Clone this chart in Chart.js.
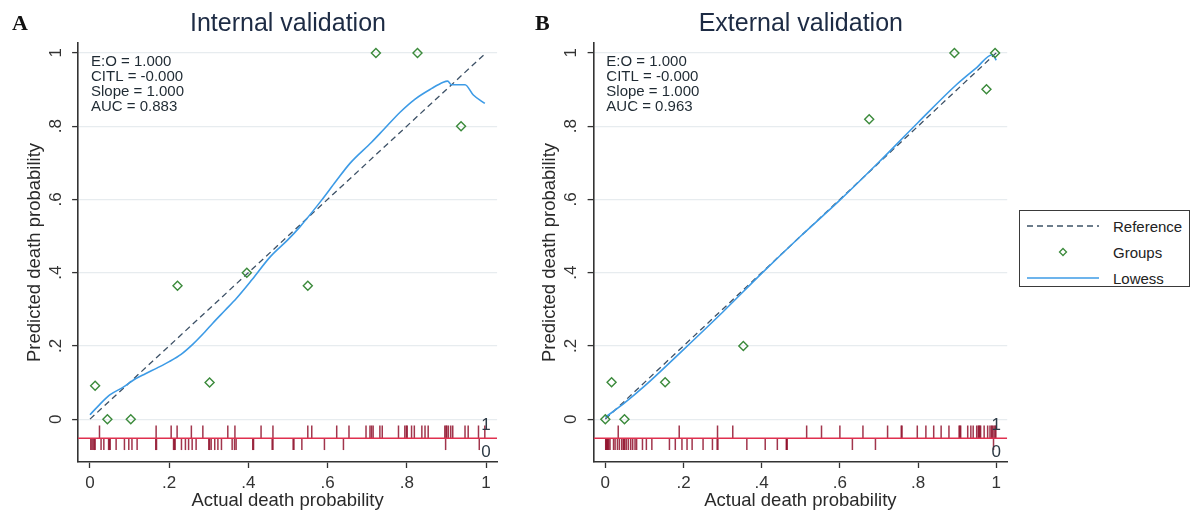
<!DOCTYPE html>
<html>
<head>
<meta charset="utf-8">
<script src="https://cdn.jsdelivr.net/npm/chart.js@4.4.1/dist/chart.umd.min.js"></script>
<style>
  html, body { margin: 0; padding: 0; background: #fff; }
  #wrap { position: relative; width: 1194px; height: 514px; overflow: hidden; background: #fff; }
  #cA { position: absolute; left: 0; top: 0; }
  #cB { position: absolute; left: 515px; top: 0; }
  #legend { position: absolute; left: 1019px; top: 210px; width: 171px; height: 77px;
            border: 1.5px solid #3a3a3a; box-sizing: border-box;
            font-family: "Liberation Sans", Arial, sans-serif; font-size: 15px; color: #222; }
  #legend .row { position: absolute; left: 0; width: 100%; height: 20px; }
  #legend svg { position: absolute; left: 7px; top: 4px; }
  #legend span { position: absolute; left: 93px; top: 1px; line-height: 18px; }
</style>
</head>
<body>
<div id="wrap">
  <canvas id="cA" width="515" height="514"></canvas>
  <canvas id="cB" width="500" height="514"></canvas>
  <div id="legend"></div>
</div>
<script>
// ---- axis ticks (Stata-style labels) ----
const tickValues = [0, 0.2, 0.4, 0.6, 0.8, 1];
const tickLabels = ['0', '.2', '.4', '.6', '.8', '1'];

// ---- reference (perfect calibration) line ----
const refX = [0, 1];
const refY = [0, 1];

// ---- panel A: internal validation ----
const groupsAX = [0.013, 0.044, 0.103, 0.221, 0.302, 0.396, 0.550, 0.722, 0.827, 0.937];
const groupsAY = [0.091, 0.000, 0.000, 0.364, 0.100, 0.400, 0.364, 1.000, 1.000, 0.800];
const lowessAX = [0, 0.02, 0.05, 0.085, 0.11, 0.14, 0.17, 0.2, 0.23, 0.26, 0.29, 0.31, 0.34, 0.37, 0.41, 0.455, 0.5, 0.53, 0.585, 0.62, 0.657, 0.711, 0.741, 0.783, 0.821, 0.863, 0.892, 0.903, 0.913, 0.947, 0.968, 0.997];
const lowessAY = [0.012, 0.035, 0.066, 0.088, 0.107, 0.124, 0.140, 0.157, 0.177, 0.205, 0.238, 0.262, 0.296, 0.33, 0.382, 0.443, 0.49, 0.525, 0.598, 0.648, 0.699, 0.756, 0.79, 0.838, 0.874, 0.903, 0.92, 0.923, 0.913, 0.913, 0.885, 0.862];
const rugAEvents = [0.024, 0.167, 0.205, 0.220, 0.256, 0.285, 0.348, 0.366, 0.432, 0.462, 0.550, 0.560, 0.623, 0.654, 0.697, 0.707, 0.711, 0.715, 0.732, 0.738, 0.779, 0.795, 0.799, 0.801, 0.812, 0.819, 0.838, 0.846, 0.854, 0.896, 0.899, 0.901, 0.905, 0.911, 0.916, 0.947, 0.955, 0.981, 0.997];
const rugANonEvents = [0.002, 0.005, 0.008, 0.011, 0.013, 0.028, 0.035, 0.047, 0.049, 0.051, 0.066, 0.087, 0.098, 0.106, 0.119, 0.166, 0.168, 0.211, 0.213, 0.215, 0.231, 0.241, 0.249, 0.258, 0.268, 0.300, 0.302, 0.306, 0.315, 0.323, 0.332, 0.359, 0.365, 0.369, 0.411, 0.413, 0.460, 0.462, 0.513, 0.515, 0.535, 0.592, 0.640, 0.898, 0.983];
const statsA = ['E:O = 1.000', 'CITL = -0.000', 'Slope = 1.000', 'AUC = 0.883'];

// ---- panel B: external validation ----
const groupsBX = [0.000, 0.016, 0.049, 0.153, 0.353, 0.675, 0.893, 0.975, 0.997];
const groupsBY = [0.000, 0.101, 0.000, 0.101, 0.200, 0.819, 1.000, 0.901, 1.000];
const lowessBX = [0, 0.05, 0.1, 0.2, 0.3, 0.4, 0.5, 0.6, 0.7, 0.8, 0.9, 0.95, 0.99, 1.0];
const lowessBY = [0.005, 0.045, 0.09, 0.19, 0.292, 0.398, 0.5, 0.598, 0.702, 0.81, 0.915, 0.96, 0.995, 0.98];
const rugBEvents = [0.033, 0.189, 0.287, 0.326, 0.515, 0.553, 0.600, 0.659, 0.722, 0.757, 0.759, 0.798, 0.820, 0.840, 0.859, 0.879, 0.905, 0.907, 0.909, 0.927, 0.935, 0.941, 0.950, 0.954, 0.956, 0.958, 0.960, 0.969, 0.978, 0.984, 0.988, 0.990, 0.994, 0.997, 0.999];
const rugBNonEvents = [0.001, 0.002, 0.004, 0.005, 0.007, 0.009, 0.012, 0.021, 0.025, 0.031, 0.036, 0.042, 0.046, 0.048, 0.050, 0.054, 0.059, 0.065, 0.070, 0.076, 0.080, 0.095, 0.105, 0.119, 0.164, 0.179, 0.196, 0.209, 0.222, 0.250, 0.274, 0.286, 0.288, 0.362, 0.409, 0.440, 0.463, 0.464, 0.465, 0.632, 0.691, 0.993];
const statsB = ['E:O = 1.000', 'CITL = -0.000', 'Slope = 1.000', 'AUC = 0.963'];

// ---- layout of the rug strip below zero ----
const rugBaseY = -0.052;       // horizontal red baseline
const rugEventY = -0.0345;     // centre of ticks for outcome = 1
const rugNonEventY = -0.068;   // centre of ticks for outcome = 0
const outcomeLabels = ['1', '0'];
const xRange = [-0.03, 1.028];
const yRange = [-0.117, 1.027];

const legendLabels = ['Reference', 'Groups', 'Lowess'];

const FONT = '"Liberation Sans", Arial, sans-serif';
const COL = {
  ref: '#3d5166', groups: '#3b8a3b', lowess: '#3d9be6',
  rugLine: '#e0304f', rugTick: 'rgba(145,18,45,0.85)', axis: '#333', grid: '#e7ecef', text: '#2a2a2a'
};

const pts = (xs, ys) => xs.map((x, i) => ({ x, y: ys[i] }));
const rug = (xs, y) => xs.map(x => ({ x, y }));

// panel letter, title, statistics block and the 1/0 outcome labels
const panelText = {
  id: 'panelText',
  afterDraw(chart, args, o) {
    const { ctx, scales: { x, y } } = chart;
    ctx.save();
    ctx.fillStyle = '#111';
    ctx.font = 'bold 22px "Liberation Serif", serif';
    ctx.textAlign = 'left'; ctx.textBaseline = 'alphabetic';
    ctx.fillText(o.letter, o.letterX, 30);

    ctx.fillStyle = '#1d2b44';
    ctx.font = '25px ' + FONT;
    ctx.textAlign = 'center'; ctx.textBaseline = 'middle';
    ctx.fillText(o.title, x.getPixelForValue(0.5), 24);

    ctx.fillStyle = '#1f2a33';
    ctx.font = '15px ' + FONT;
    ctx.textAlign = 'left';
    const x0 = x.getPixelForValue(0) + 1;
    const y0 = y.getPixelForValue(1) + 9;
    o.stats.forEach((t, i) => ctx.fillText(t, x0, y0 + i * 15));

    ctx.fillStyle = '#2d3a45';
    ctx.font = '17px ' + FONT;
    ctx.textAlign = 'center';
    ctx.fillText(outcomeLabels[0], x.getPixelForValue(1), y.getPixelForValue(-0.016));
    ctx.fillText(outcomeLabels[1], x.getPixelForValue(1), y.getPixelForValue(-0.09));
    ctx.restore();
  }
};

function makeChart(id, d) {
  const ctx = document.getElementById(id);
  return new Chart(ctx, {
    type: 'scatter',
    data: {
      datasets: [
        { label: legendLabels[2], data: pts(d.lowessX, d.lowessY), showLine: true, pointRadius: 0,
          borderColor: COL.lowess, borderWidth: 1.6, cubicInterpolationMode: 'monotone', order: 1 },
        { label: legendLabels[0], data: pts(refX, refY), showLine: true, pointRadius: 0,
          borderColor: COL.ref, borderWidth: 1.3, borderDash: [6, 4], order: 2 },
        { label: legendLabels[1], data: pts(d.groupsX, d.groupsY), pointStyle: 'rectRot', pointRadius: 4.5,
          borderColor: COL.groups, backgroundColor: 'rgba(255,255,255,0)', borderWidth: 1.4, order: 0 },
        { label: 'rugline', data: rug(xRange, rugBaseY), showLine: true, pointRadius: 0,
          borderColor: COL.rugLine, borderWidth: 1.5, order: 3 },
        { label: 'events', data: rug(d.rugEvents, rugEventY), pointStyle: 'line', rotation: 90,
          pointRadius: 6.3, borderColor: COL.rugTick, borderWidth: 1.5, order: 4 },
        { label: 'nonevents', data: rug(d.rugNonEvents, rugNonEventY), pointStyle: 'line', rotation: 90,
          pointRadius: 6, borderColor: COL.rugTick, borderWidth: 1.5, order: 4 }
      ]
    },
    options: {
      responsive: false,
      animation: false,
      events: [],
      layout: { padding: { top: 43, right: d.padRight, bottom: 0, left: 0 } },
      plugins: {
        legend: { display: false },
        tooltip: { enabled: false },
        panelText: { letter: d.letter, letterX: d.letterX, title: d.title, stats: d.stats }
      },
      scales: {
        x: {
          type: 'linear', min: xRange[0], max: xRange[1],
          afterBuildTicks: s => { s.ticks = tickValues.map(v => ({ value: v })); },
          afterFit: s => { s.height = 52; },
          ticks: { autoSkip: false, maxRotation: 0, padding: 5, color: '#333',
                   font: { family: FONT, size: 17 },
                   callback: v => tickLabels[tickValues.indexOf(v)] },
          grid: { drawOnChartArea: false, tickLength: 6, tickColor: COL.axis, tickWidth: 1.3 },
          border: { color: COL.axis, width: 1.6 },
          title: { display: true, text: 'Actual death probability', color: COL.text,
                   font: { family: FONT, size: 18.5 }, padding: { top: 0, bottom: 2 } }
        },
        y: {
          type: 'linear', min: yRange[0], max: yRange[1],
          afterBuildTicks: s => { s.ticks = tickValues.map(v => ({ value: v })); },
          afterFit: s => { s.width = d.axisWidth; },
          ticks: { autoSkip: false, minRotation: 90, maxRotation: 90, crossAlign: 'center', padding: 9,
                   color: '#333', font: { family: FONT, size: 17 },
                   callback: v => tickLabels[tickValues.indexOf(v)] },
          grid: { color: COL.grid, lineWidth: 1.2, tickLength: 6, tickColor: COL.axis, tickWidth: 1.3 },
          border: { color: COL.axis, width: 1.6 },
          title: { display: true, text: 'Predicted death probability', color: COL.text,
                   font: { family: FONT, size: 18.5 }, padding: { top: 24, bottom: 0 } }
        }
      }
    },
    plugins: [panelText]
  });
}

makeChart('cA', {
  letter: 'A', letterX: 12, title: 'Internal validation', stats: statsA,
  groupsX: groupsAX, groupsY: groupsAY, lowessX: lowessAX, lowessY: lowessAY,
  rugEvents: rugAEvents, rugNonEvents: rugANonEvents, axisWidth: 78.1, padRight: 17.9
});
makeChart('cB', {
  letter: 'B', letterX: 20, title: 'External validation', stats: statsB,
  groupsX: groupsBX, groupsY: groupsBY, lowessX: lowessBX, lowessY: lowessBY,
  rugEvents: rugBEvents, rugNonEvents: rugBNonEvents, axisWidth: 78.6, padRight: 3.4
});

// legend box (shared by both panels)
(function buildLegend() {
  const box = document.getElementById('legend');
  const icons = [
    '<svg width="72" height="10"><line x1="0" y1="5" x2="72" y2="5" stroke="' + COL.ref + '" stroke-width="1.3" stroke-dasharray="6 4"/></svg>',
    '<svg width="72" height="10"><path d="M36 1.5 L39.5 5 L36 8.5 L32.5 5 Z" fill="none" stroke="' + COL.groups + '" stroke-width="1.3"/></svg>',
    '<svg width="72" height="10"><line x1="0" y1="5" x2="72" y2="5" stroke="' + COL.lowess + '" stroke-width="1.6"/></svg>'
  ];
  const tops = [6, 32, 58];
  legendLabels.forEach((lab, i) => {
    const row = document.createElement('div');
    row.className = 'row';
    row.style.top = tops[i] + 'px';
    row.innerHTML = icons[i] + '<span>' + lab + '</span>';
    box.appendChild(row);
  });
})();
</script>
</body>
</html>
